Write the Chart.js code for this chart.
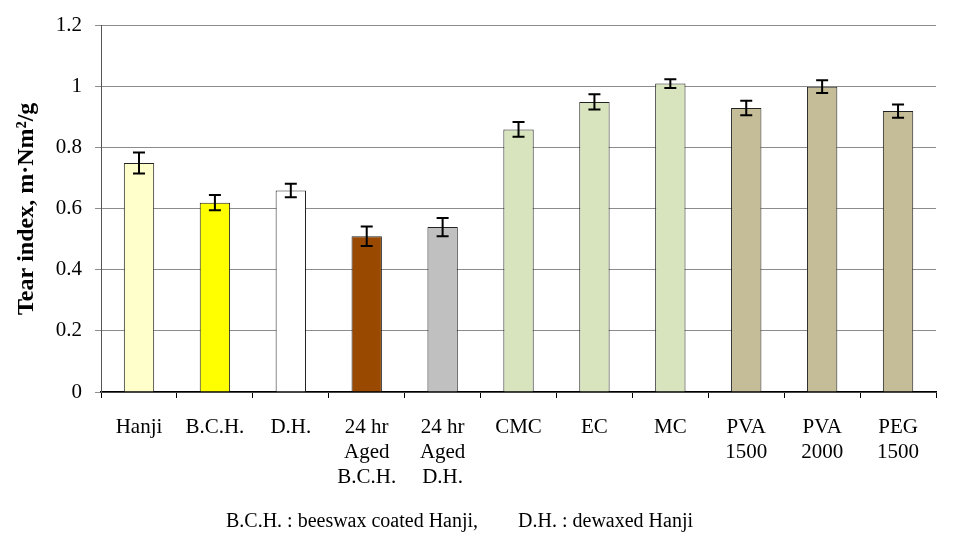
<!DOCTYPE html>
<html>
<head>
<meta charset="utf-8">
<script src="https://cdn.jsdelivr.net/npm/chart.js@4"></script>
<style>
  html, body { margin: 0; padding: 0; background: #fff; }
  #wrap { width: 962px; height: 548px; }
</style>
</head>
<body>
<div id="wrap"><canvas id="tearChart" width="962" height="548"></canvas></div>
<script>
const categories = [
  'Hanji', 'B.C.H.', 'D.H.',
  ['24 hr', 'Aged', 'B.C.H.'], ['24 hr', 'Aged', 'D.H.'],
  'CMC', 'EC', 'MC',
  ['PVA', '1500'], ['PVA', '2000'], ['PEG', '1500']
];
const tearIndex = [0.75, 0.62, 0.66, 0.51, 0.54, 0.86, 0.95, 1.01, 0.93, 1.00, 0.92];
const tearError = [0.034, 0.025, 0.022, 0.032, 0.03, 0.024, 0.025, 0.014, 0.024, 0.021, 0.022];
const barColors = [
  '#FFFFCC', '#FFFF00', '#FFFFFF', '#994A00', '#C0C0C0',
  '#D7E4BD', '#D7E4BD', '#D7E4BD', '#C4BD97', '#C4BD97', '#C4BD97'
];
const yTicks = [0, 0.2, 0.4, 0.6, 0.8, 1, 1.2];
// trailing spaces nudge the centred footnote left, as in the original figure
const footnote = 'B.C.H. : beeswax coated Hanji,        D.H. : dewaxed Hanji     ';

const serif = '"Liberation Serif", "Times New Roman", serif';

// error bars drawn on top of each bar, through the y scale
const errorBars = {
  id: 'errorBars',
  afterDatasetsDraw(chart) {
    const ctx = chart.ctx;
    const y = chart.scales.y;
    const meta = chart.getDatasetMeta(0);
    ctx.save();
    ctx.strokeStyle = '#000';
    ctx.lineWidth = 2;
    meta.data.forEach((bar, i) => {
      const top = y.getPixelForValue(tearIndex[i] + tearError[i]);
      const bot = y.getPixelForValue(tearIndex[i] - tearError[i]);
      const cap = 6;
      ctx.beginPath();
      ctx.moveTo(bar.x, top); ctx.lineTo(bar.x, bot);
      ctx.moveTo(bar.x - cap, top); ctx.lineTo(bar.x + cap, top);
      ctx.moveTo(bar.x - cap, bot); ctx.lineTo(bar.x + cap, bot);
      ctx.stroke();
    });
    ctx.restore();
  }
};

new Chart(document.getElementById('tearChart').getContext('2d'), {
  type: 'bar',
  data: {
    labels: categories,
    datasets: [{
      data: tearIndex,
      backgroundColor: barColors,
      borderColor: '#222',
      borderWidth: 1,
      categoryPercentage: 1,
      barPercentage: 0.4
    }]
  },
  options: {
    responsive: false,
    animation: false,
    layout: { padding: { left: 8, right: 26, top: 19, bottom: 6 } },
    plugins: {
      legend: { display: false },
      tooltip: { enabled: false },
      title: {
        display: true,
        position: 'bottom',
        text: footnote,
        color: '#000',
        font: { family: serif, size: 20, weight: 'normal', lineHeight: 1.2 },
        padding: { top: 3, bottom: 8 }
      }
    },
    scales: {
      x: {
        grid: { display: true, drawOnChartArea: false, color: '#000', tickLength: 6, offset: true },
        border: { color: '#000', width: 1.5 },
        ticks: {
          color: '#000',
          font: { family: serif, size: 21, lineHeight: '25px' },
          maxRotation: 0, autoSkip: false, padding: 17
        }
      },
      y: {
        min: 0, max: 1.2,
        afterBuildTicks: axis => { axis.ticks = yTicks.map(v => ({ value: v })); },
        grid: { color: '#8c8c8c', lineWidth: 1, tickLength: 6 },
        border: { color: '#555', width: 1 },
        ticks: {
          color: '#000',
          font: { family: serif, size: 21 },
          padding: 13,
          callback: v => String(v)
        },
        title: {
          display: true,
          text: 'Tear index, m·Nm²/g',
          color: '#000',
          font: { family: serif, size: 24, weight: 'bold' },
          padding: { top: 4, bottom: 2 }
        }
      }
    }
  },
  plugins: [errorBars]
});
</script>
</body>
</html>
